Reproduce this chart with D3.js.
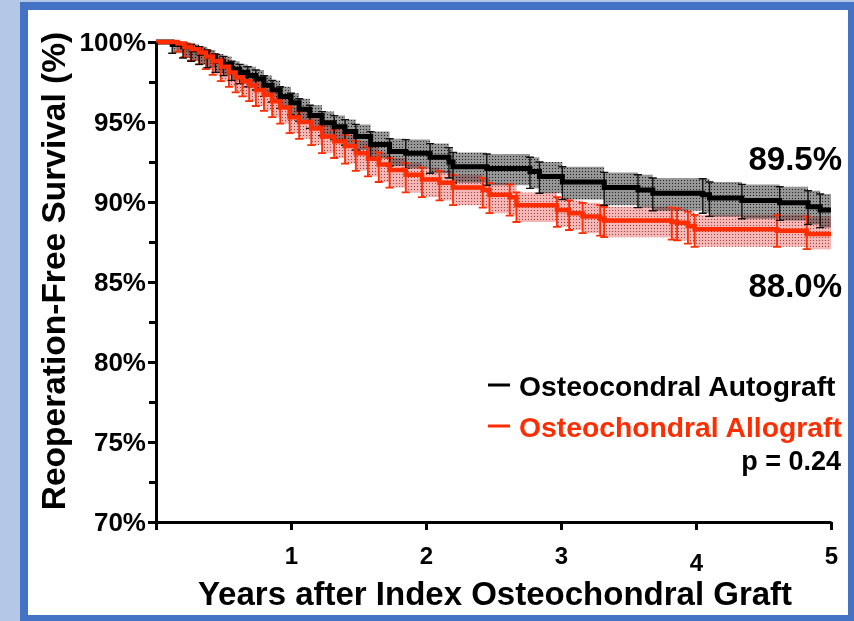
<!DOCTYPE html>
<html lang="en">
<head>
  <meta charset="utf-8">
  <title>Reoperation-Free Survival</title>
  <script src="https://d3js.org/d3.v7.min.js"></script>
  <style>
    body { margin: 0; background: #b4c7e7; }
    svg { display: block; font-family: "Liberation Sans", Arial, sans-serif; font-weight: bold; }
    .axis path, .axis line { stroke: #000; stroke-width: 3; }
    .axis text { font-weight: bold; fill: #000; font-family: "Liberation Sans", Arial, sans-serif; }
    .axis.x text { font-size: 24px; }
    .axis.y text { font-size: 26px; }
  </style>
</head>
<body>
  <div id="chart"></div>
  <script>
    // Osteochondral autograft (black)
    var autoTime = [0.12, 0.20, 0.26, 0.32, 0.38, 0.44, 0.50, 0.56, 0.62, 0.68, 0.74, 0.80, 0.86, 0.92, 1.00,
      1.06, 1.14, 1.23, 1.32, 1.40, 1.48, 1.59, 1.73, 1.85, 2.03, 2.17, 2.20, 2.45, 2.77, 2.84,
      3.01, 3.32, 3.57, 3.68, 4.05, 4.10, 4.34, 4.62, 4.83, 4.92];
    var autoSurv = [99.85, 99.70, 99.50, 99.30, 99.10, 98.80, 98.60, 98.30, 98.10, 97.90, 97.70, 97.30, 97.00, 96.60, 96.20,
      95.80, 95.40, 94.95, 94.70, 94.40, 94.10, 93.60, 93.15, 93.05, 92.80, 92.50, 92.20, 92.10, 91.90, 91.60,
      91.25, 90.90, 90.75, 90.55, 90.45, 90.25, 90.10, 89.95, 89.70, 89.50];
    var autoHigh = [100.0, 99.95, 99.85, 99.7, 99.5, 99.25, 99.1, 98.8, 98.6, 98.45, 98.25, 97.9, 97.6, 97.2, 96.8,
      96.45, 96.05, 95.65, 95.4, 95.15, 94.85, 94.4, 93.95, 93.9, 93.65, 93.4, 93.1, 93.0, 92.8, 92.5,
      92.2, 91.85, 91.7, 91.5, 91.45, 91.25, 91.1, 90.95, 90.7, 90.5];
    var autoLow = [99.3, 99.0, 98.8, 98.6, 98.4, 98.1, 97.9, 97.6, 97.4, 97.2, 97.0, 96.6, 96.25, 95.85, 95.45,
      95.05, 94.6, 94.15, 93.9, 93.55, 93.25, 92.7, 92.25, 92.1, 91.8, 91.5, 91.2, 91.05, 90.85, 90.55,
      90.15, 89.8, 89.65, 89.45, 89.3, 89.1, 88.95, 88.85, 88.6, 88.4];

    // Osteochondral allograft (red)
    var alloTime = [0.16, 0.21, 0.26, 0.32, 0.37, 0.42, 0.48, 0.54, 0.59, 0.64, 0.69, 0.74, 0.80, 0.86, 0.92,
      0.99, 1.06, 1.15, 1.23, 1.32, 1.40, 1.48, 1.57, 1.65, 1.73, 1.85, 1.97, 2.10, 2.20, 2.42,
      2.47, 2.62, 2.67, 2.97, 3.06, 3.16, 3.29, 3.32, 3.82, 3.86, 3.94, 3.99, 4.60, 4.82];
    var alloSurv = [99.90, 99.70, 99.55, 99.35, 99.10, 98.80, 98.45, 98.10, 97.80, 97.55, 97.30, 97.00, 96.70, 96.30, 95.90,
      95.30, 95.00, 94.60, 94.10, 93.80, 93.50, 93.05, 92.70, 92.35, 92.00, 91.70, 91.40, 91.20, 90.90, 90.75,
      90.45, 90.30, 89.80, 89.50, 89.30, 89.10, 88.95, 88.85, 88.75, 88.70, 88.50, 88.30, 88.20, 88.00];
    var alloHigh = [100, 99.95, 99.85, 99.7, 99.5, 99.25, 98.95, 98.6, 98.35, 98.1, 97.85, 97.6, 97.3, 96.9, 96.5,
      95.95, 95.65, 95.3, 94.8, 94.5, 94.2, 93.8, 93.45, 93.1, 92.75, 92.45, 92.15, 91.95, 91.7, 91.5,
      91.2, 91.1, 90.6, 90.3, 90.1, 89.95, 89.8, 89.7, 89.65, 89.6, 89.4, 89.2, 89.2, 89.1];
    var alloLow = [99.4, 99.05, 98.85, 98.6, 98.3, 97.95, 97.55, 97.2, 96.85, 96.6, 96.3, 96.0, 95.7, 95.3, 94.9,
      94.3, 93.95, 93.55, 93.05, 92.75, 92.4, 91.95, 91.6, 91.25, 90.9, 90.6, 90.3, 90.1, 89.8, 89.65,
      89.3, 89.15, 88.75, 88.45, 88.25, 88.05, 87.9, 87.8, 87.65, 87.6, 87.4, 87.2, 87.2, 87.05];

    var yTicks = [70, 75, 80, 85, 90, 95, 100];
    var yMinorTicks = [72.5, 77.5, 82.5, 87.5, 92.5, 97.5];
    var xTicks = [0, 1, 2, 3, 4, 5];
    var endLabels = ['89.5%', '88.0%'];
    var legendNames = ['Osteocondral Autograft', 'Osteochondral Allograft'];
    var pText = 'p = 0.24';

    var w = 854, h = 621;
    var red = '#ff2d00';

    var x = d3.scaleLinear().domain([0, 5]).range([156, 831]);
    var y = d3.scaleLinear().domain([70, 100]).range([522, 42]);

    var svg = d3.select('#chart').append('svg')
      .attr('width', w)
      .attr('height', h);

    // frame
    svg.append('rect').attr('width', w).attr('height', h).attr('fill', '#b4c7e7');
    svg.append('rect')
      .attr('x', 24).attr('y', 6)
      .attr('width', 828).attr('height', 613)
      .attr('fill', '#fff')
      .attr('stroke', '#4472c4')
      .attr('stroke-width', 8);

    // dotted fills for the confidence bands
    var defs = svg.append('defs');
    var pg = defs.append('pattern').attr('id', 'dotGray')
      .attr('width', 3).attr('height', 3).attr('patternUnits', 'userSpaceOnUse');
    pg.append('rect').attr('width', 3).attr('height', 3).attr('fill', '#969696');
    pg.append('rect').attr('width', 1).attr('height', 1).attr('fill', '#222');
    var pr = defs.append('pattern').attr('id', 'dotPink')
      .attr('width', 3).attr('height', 3).attr('patternUnits', 'userSpaceOnUse');
    pr.append('rect').attr('width', 3).attr('height', 3).attr('fill', '#f5b6b6');
    pr.append('rect').attr('width', 1).attr('height', 1).attr('fill', '#9a4040');

    function makeSeries(time, surv, low, high) {
      var rows = [[0, 100, 100, 100]];
      time.forEach(function (t, i) {
        rows.push([t, surv[i], low[i], high[i]]);
      });
      var last = rows[rows.length - 1];
      rows.push([5, last[1], last[2], last[3]]);
      return rows;
    }
    var autoData = makeSeries(autoTime, autoSurv, autoLow, autoHigh);
    var alloData = makeSeries(alloTime, alloSurv, alloLow, alloHigh);

    var band = d3.area()
      .x(function (d) { return x(d[0]); })
      .y0(function (d) { return y(d[2]); })
      .y1(function (d) { return y(d[3]); })
      .curve(d3.curveStepAfter);
    var line = d3.line()
      .x(function (d) { return x(d[0]); })
      .y(function (d) { return y(d[1]); })
      .curve(d3.curveStepAfter);

    svg.append('path').datum(autoData)
      .attr('d', band)
      .attr('fill', 'url(#dotGray)');
    svg.append('path').datum(alloData)
      .attr('d', band)
      .attr('fill', 'url(#dotPink)')
      .style('mix-blend-mode', 'multiply');

    function errorBars(data, color, width) {
      var g = svg.append('g')
        .attr('stroke', color)
        .attr('stroke-width', width)
        .attr('fill', 'none');
      var pts = data.slice(1, -1);
      g.selectAll('path')
        .data(pts)
        .enter().append('path')
        .attr('d', function (d) {
          var cx = x(d[0]), lo = y(d[2]), hi = y(d[3]);
          return 'M' + cx + ',' + lo + 'V' + hi +
            'M' + (cx - 4) + ',' + hi + 'H' + (cx + 4) +
            'M' + (cx - 4) + ',' + lo + 'H' + (cx + 4);
        });
    }
    errorBars(alloData, red, 1.8);
    errorBars(autoData, '#111', 1.4);

    svg.append('path').datum(autoData)
      .attr('d', line)
      .attr('fill', 'none')
      .attr('stroke', '#000')
      .attr('stroke-width', 5);
    svg.append('path').datum(alloData)
      .attr('d', line)
      .attr('fill', 'none')
      .attr('stroke', red)
      .attr('stroke-width', 4.5);

    // axes
    svg.append('g')
      .attr('class', 'axis y')
      .attr('transform', 'translate(' + x(0) + ',0)')
      .call(d3.axisLeft(y)
        .tickValues(yTicks)
        .tickSize(8)
        .tickSizeOuter(0)
        .tickPadding(2)
        .tickFormat(function (d) { return d + '%'; }));

    svg.append('g')
      .attr('class', 'axis')
      .attr('transform', 'translate(' + x(0) + ',0)')
      .call(d3.axisLeft(y)
        .tickValues(yMinorTicks)
        .tickSize(7)
        .tickFormat(''))
      .select('.domain').remove();

    var xAxis = svg.append('g')
      .attr('class', 'axis x')
      .attr('transform', 'translate(0,' + y(70) + ')')
      .call(d3.axisBottom(x)
        .tickValues(xTicks)
        .tickSize(8)
        .tickSizeOuter(0)
        .tickPadding(17)
        .tickFormat(function (d) { return d === 0 ? '' : d; }));
    xAxis.selectAll('text')
      .attr('dy', function (d) { return d === 4 ? '0.98em' : '0.71em'; });

    // titles
    svg.append('text')
      .attr('x', 495).attr('y', 605)
      .attr('text-anchor', 'middle')
      .style('font-size', '33px')
      .text('Years after Index Osteochondral Graft');
    svg.append('text')
      .attr('transform', 'translate(65,271) rotate(-90)')
      .attr('text-anchor', 'middle')
      .style('font-size', '33.5px')
      .text('Reoperation-Free Survival (%)');

    // end values
    svg.selectAll('text.end')
      .data(endLabels)
      .enter().append('text')
      .attr('class', 'end')
      .attr('x', 842)
      .attr('y', function (d, i) { return i === 0 ? 170 : 297; })
      .attr('text-anchor', 'end')
      .style('font-size', '33px')
      .text(function (d) { return d; });

    // legend
    var legColors = ['#000', red];
    var leg = svg.selectAll('g.leg')
      .data(legendNames)
      .enter().append('g')
      .attr('class', 'leg')
      .attr('transform', function (d, i) { return 'translate(0,' + (396 + i * 41) + ')'; });
    leg.append('line')
      .attr('x1', 488).attr('x2', 510)
      .attr('y1', -11).attr('y2', -11)
      .attr('stroke', function (d, i) { return legColors[i]; })
      .attr('stroke-width', 3);
    leg.append('text')
      .attr('x', 519)
      .style('font-size', '28.3px')
      .attr('fill', function (d, i) { return legColors[i]; })
      .text(function (d) { return d; });

    svg.append('text')
      .attr('x', 841).attr('y', 470)
      .attr('text-anchor', 'end')
      .style('font-size', '27px')
      .text(pText);
  </script>
</body>
</html>
